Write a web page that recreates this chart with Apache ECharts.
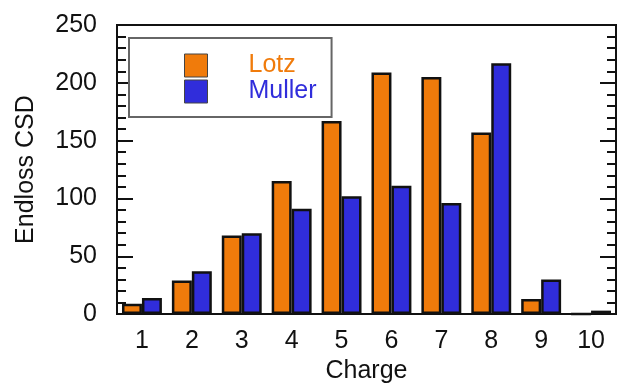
<!DOCTYPE html>
<html>
<head>
<meta charset="utf-8">
<script src="https://cdn.jsdelivr.net/npm/echarts@6/dist/echarts.min.js"></script>
<style>
  html, body { margin: 0; padding: 0; background: #fff; }
  #chart { width: 618px; height: 389px; }
</style>
</head>
<body>
<div id="chart"></div>
<script>
// Data
const charges = ['1', '2', '3', '4', '5', '6', '7', '8', '9', '10'];
const lotz = [9, 29, 68, 115, 167, 209, 205, 157, 13, 0];
const muller = [14, 37, 70, 91, 102, 111, 96, 217, 30, 3];
const yTicks = [0, 50, 100, 150, 200, 250];

const ORANGE = '#F07B0B';
const BLUE = '#302DDB';
const FONT = 'Liberation Sans';
const FS = 25;

const chart = echarts.init(document.getElementById('chart'));

const yAxisBase = {
  type: 'value',
  min: yTicks[0],
  max: yTicks[yTicks.length - 1],
  interval: yTicks[1] - yTicks[0],
  splitLine: { show: false },
  axisLine: { show: true, lineStyle: { color: '#111', width: 2 } },
  axisTick: { show: true, inside: true, length: 16, lineStyle: { color: '#111', width: 2 } },
  minorTick: { show: true, splitNumber: 5, length: 9, lineStyle: { color: '#111', width: 2 } },
};

chart.setOption({
  animation: false,
  textStyle: { fontFamily: FONT },
  grid: {
    left: 117, top: 25, right: 2, bottom: 67,
    show: true, borderColor: '#111', borderWidth: 2,
  },
  legend: {
    orient: 'vertical',
    left: 129,
    top: 38,
    padding: [15, 15, 13, 55],
    itemWidth: 23,
    itemHeight: 23,
    itemGap: 1,
    icon: 'rect',
    backgroundColor: '#fff',
    borderColor: '#666',
    borderWidth: 2,
    itemStyle: { borderColor: '#444', borderWidth: 1 },
    textStyle: { fontSize: FS, fontFamily: FONT, padding: [0, 0, 0, 36] },
    data: [
      { name: 'Lotz', textStyle: { color: ORANGE } },
      { name: 'Muller', textStyle: { color: BLUE } },
    ],
  },
  xAxis: {
    type: 'category',
    data: charges,
    name: 'Charge',
    nameLocation: 'middle',
    nameGap: 43,
    nameTextStyle: { fontSize: FS, color: '#111', fontFamily: FONT },
    axisLine: { lineStyle: { color: '#111', width: 2 } },
    axisTick: { show: false },
    axisLabel: { fontSize: FS, color: '#111', margin: 15, fontFamily: FONT },
  },
  yAxis: [
    Object.assign({}, yAxisBase, {
      position: 'left',
      name: 'Endloss CSD',
      nameLocation: 'middle',
      nameGap: 78,
      nameTextStyle: { fontSize: FS, color: '#111', fontFamily: FONT },
      axisLabel: { fontSize: FS, color: '#111', margin: 20, fontFamily: FONT },
    }),
    Object.assign({}, yAxisBase, {
      position: 'right',
      axisLabel: { show: false },
    }),
  ],
  series: [
    {
      name: 'Lotz',
      type: 'bar',
      data: lotz,
      barGap: '0%',
      barCategoryGap: '20%',
      itemStyle: { color: ORANGE, borderColor: '#111', borderWidth: 2.5 },
    },
    {
      name: 'Muller',
      type: 'bar',
      data: muller,
      barGap: '0%',
      barCategoryGap: '20%',
      itemStyle: { color: BLUE, borderColor: '#111', borderWidth: 2.5 },
    },
  ],
});
</script>
</body>
</html>
